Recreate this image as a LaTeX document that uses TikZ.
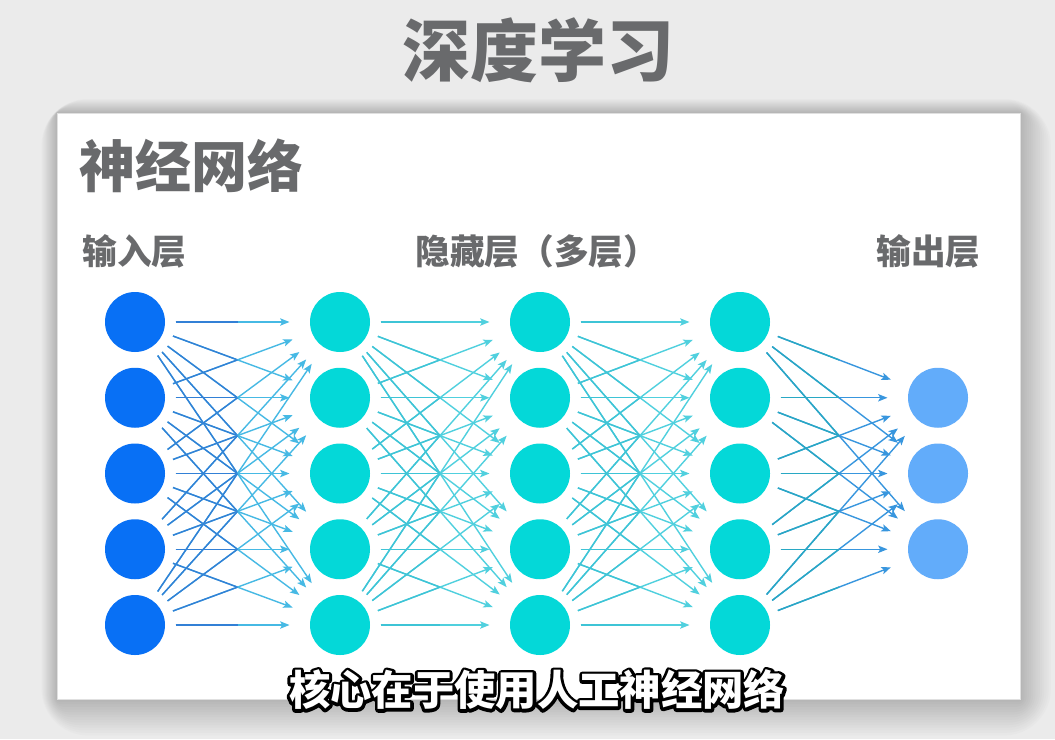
\documentclass[tikz,border=0pt]{standalone}
\usepackage{fontspec}
\newfontfamily\cjk{Noto Sans CJK SC}
\usetikzlibrary{arrows.meta,calc}

\definecolor{bgGray}{RGB}{235,235,235}
\definecolor{textGray}{RGB}{105,106,108}
\definecolor{inBlue}{RGB}{8,112,245}
\definecolor{hidTeal}{RGB}{4,216,216}
\definecolor{outBlue}{RGB}{98,172,250}
\definecolor{linkInA}{RGB}{50,128,214}
\definecolor{linkInB}{RGB}{70,185,228}
\definecolor{linkHidA}{RGB}{62,196,214}
\definecolor{linkHidB}{RGB}{80,208,222}
\definecolor{linkOutA}{RGB}{40,168,196}
\definecolor{linkOutB}{RGB}{56,150,222}

\tikzset{every picture/.style={line width=0.75pt},
  neuron/.style={circle, minimum size=45pt, inner sep=0pt},
  link/.style={-{Stealth[length=7pt,width=5.5pt,inset=1.5pt]}, line width=1.05pt, shorten <=7.5pt, shorten >=15pt},
  linkhalf/.style={line width=1.05pt, shorten <=7.5pt},
  layername/.style={font=\cjk\bfseries\fontsize{26}{26}\selectfont, text=textGray, inner sep=0pt},
  subtitle/.style={font=\cjk\bfseries\fontsize{31}{31}\selectfont, inner sep=0pt}
}

\begin{document}
\begin{tikzpicture}[x=0.75pt,y=0.75pt,yscale=-1,xscale=1]
\useasboundingbox (0,0) rectangle (1055,739);

%Shape: Background
\fill[bgGray] (0,0) rectangle (1055,739);
%Shape: Panel shadow
\foreach \k in {14,13,...,1} {
  \pgfmathsetmacro{\p}{1.6*(15-\k)}
  \fill[black!\p!bgGray, rounded corners=2.5*\k] (57-1.1*\k,113-1.0*\k) rectangle (1020+2.2*\k,699+2.6*\k);
}
%Shape: Panel
\filldraw[fill=white, draw=black!12] (57,113) rectangle (1020,699);

% Text Node
\node[font=\cjk\bfseries\fontsize{51}{51}\selectfont, text=textGray, inner sep=0pt] (title) at (538,50) {深度学习};
% Text Node
\node[font=\cjk\bfseries\fontsize{42}{42}\selectfont, text=textGray, inner sep=0pt, anchor=west] (panelname) at (79,166) {神经网络};
% Text Node
\node[layername, anchor=west] (inname) at (82,251) {输入层};
% Text Node
\node[layername, anchor=west] (hidname) at (415,251) {隐藏层（多层）};
% Text Node
\node[layername, anchor=west] (outname) at (876,251) {输出层};

%Shape: Neurons
\foreach \i in {1,...,5} {
  \node[neuron, fill=inBlue] (in\i) at (135,322+75.75*\i-75.75) {};
  \node[neuron, fill=hidTeal] (ha\i) at (340,322+75.75*\i-75.75) {};
  \node[neuron, fill=hidTeal] (hb\i) at (540,322+75.75*\i-75.75) {};
  \node[neuron, fill=hidTeal] (hc\i) at (740,322+75.75*\i-75.75) {};
}
\foreach \j in {1,2,3}
  \node[neuron, fill=outBlue] (out\j) at (938,322+75.75*\j) {};

%Straight Lines: connections (second colour over the first half)
\foreach \i in {1,...,5} {
  \foreach \j in {1,...,5} {
    \draw[link, linkInB] (in\i) -- (ha\j);
    \draw[linkhalf, linkInA] (in\i) -- ($(in\i)!0.5!(ha\j)$);
    \draw[link, linkHidB] (ha\i) -- (hb\j);
    \draw[linkhalf, linkHidA] (ha\i) -- ($(ha\i)!0.5!(hb\j)$);
    \draw[link, linkHidB] (hb\i) -- (hc\j);
    \draw[linkhalf, linkHidA] (hb\i) -- ($(hb\i)!0.5!(hc\j)$);
  }
  \foreach \j in {1,2,3} {
    \draw[link, linkOutB] (hc\i) -- (out\j);
    \draw[linkhalf, linkOutA] (hc\i) -- ($(hc\i)!0.5!(out\j)$);
  }
}

% Text Node: caption, black outline under white letters
\node[subtitle, text=black] (captionline) at (537,690) {\special{pdf:literal direct 1 Tr 4.5 w 1 j}核心在于使用人工神经网络\special{pdf:literal direct 0 Tr}};
\node[subtitle, text=white] (caption) at (537,690) {核心在于使用人工神经网络};

\end{tikzpicture}
\end{document}
